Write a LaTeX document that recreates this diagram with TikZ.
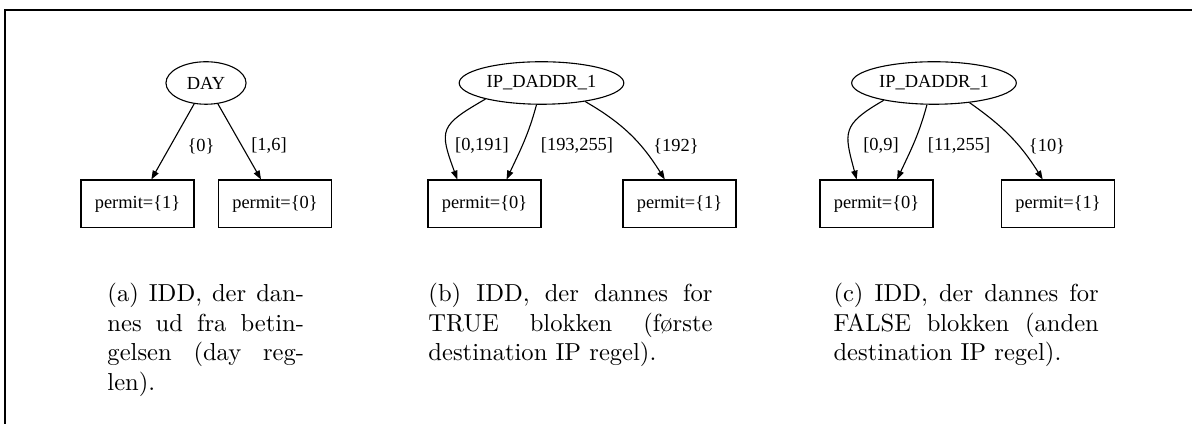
\documentclass[tikz,border=0pt]{standalone}
\usepackage{fontspec}
\usepackage{tikz}
\usetikzlibrary{
    shapes.geometric,
    arrows.meta,
    positioning
}
\newfontfamily\dotfont{Liberation Serif}
\newcommand{\dotsize}{\dotfont\fontsize{7.5}{9}\selectfont}

\begin{document}
\begin{tikzpicture}[x=4.07pt, y=4.07pt,
    var/.style={ellipse, draw, line width=0.45pt, inner sep=0pt, minimum height=17.3pt, font=\dotsize},
    leaf/.style={rectangle, draw, line width=0.45pt, inner sep=0pt, minimum width=46pt, minimum height=19.5pt, font=\dotsize},
    lbl/.style={inner sep=0pt, font=\dotsize},
    cap/.style={inner sep=0pt, anchor=base west, text width=#1, align=justify},
    every edge/.style={draw, line width=0.45pt, -{Triangle[length=3.6pt, width=2.6pt]}}
]
    \useasboundingbox (0, 0) rectangle (119.2, 42.4);
    \draw[line width=0.6pt] (119.2, 41.4) -- (0.5, 41.4) -- (0.5, 0);

    % (a) day
    \node[var, minimum width=32.6pt] (day) at (20.6, 34.1) {DAY};
    \node[leaf] (a1) at (13.75, 22) {permit=\{1\}};
    \node[leaf] (a2) at (27.5, 22) {permit=\{0\}};
    \draw (day) edge (a1)
          (day) edge (a2);
    \node[lbl] (la1) at (20.1, 27.8) {\{0\}};
    \node[lbl] (la2) at (26.9, 27.8) {[1,6]};
    \node[cap=80pt] (capa) at (10.7, 12.2) {(a) IDD, der dan-\linebreak nes ud fra betin-\linebreak gelsen (day reg-\linebreak len).};

    % (b) true
    \node[var, minimum width=67pt] (ipb) at (54.15, 34.1) {IP\_DADDR\_1};
    \node[leaf] (b0) at (48.45, 22) {permit=\{0\}};
    \node[leaf] (b1) at (67.95, 22) {permit=\{1\}};
    \draw (ipb.196) edge[out=210, in=110, looseness=1.6] (b0.138)
          (ipb.257) edge[out=-105, in=65] (b0.48)
          (ipb.337) edge[out=-30, in=122] (b1.121);
    \node[lbl] (lb0) at (48.2, 27.8) {[0,191]};
    \node[lbl] (lb1) at (57.7, 27.8) {[193,255]};
    \node[lbl] (lb2) at (67.6, 27.8) {\{192\}};
    \node[cap=115.6pt] (capb) at (42.8, 12.2) {(b) IDD, der dannes for\linebreak TRUE blokken (første\linebreak destination IP regel).};

    % (c) false
    \node[var, minimum width=67pt] (ipc) at (93.4, 34.1) {IP\_DADDR\_1};
    \node[leaf] (c0) at (87.65, 22) {permit=\{0\}};
    \node[leaf] (c1) at (105.8, 22) {permit=\{1\}};
    \draw (ipc.199) edge[out=210, in=105, looseness=1.5] (c0.129)
          (ipc.252) edge[out=-105, in=65] (c0.50)
          (ipc.331) edge[out=-35, in=122] (c1.122);
    \node[lbl] (lc0) at (88.1, 27.8) {[0,9]};
    \node[lbl] (lc1) at (95.9, 27.8) {[11,255]};
    \node[lbl] (lc2) at (104.7, 27.8) {\{10\}};
    \node[cap=108pt] (capc) at (83.3, 12.2) {(c) IDD, der dannes for\linebreak FALSE blokken (anden\linebreak destination IP regel).};
\end{tikzpicture}
\end{document}
